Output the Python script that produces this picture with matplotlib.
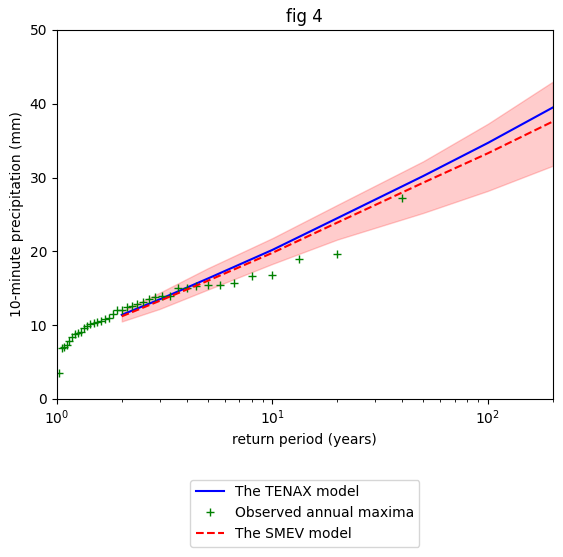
import matplotlib
matplotlib.use("Agg")
import matplotlib.pyplot as plt

# --- observed annual maxima (return period in years, value in mm) ---
obs_T = [1.026, 1.053, 1.081, 1.111, 1.143, 1.176, 1.212, 1.25, 1.29, 1.333,
         1.379, 1.429, 1.481, 1.538, 1.6, 1.667, 1.739, 1.818, 1.905, 2.0,
         2.105, 2.222, 2.353, 2.5, 2.667, 2.857, 3.077, 3.333, 3.636, 4.0,
         4.444, 5.0, 5.714, 6.667, 8.0, 10.0, 13.33, 20.0, 40.0]
obs_P = [3.5, 6.9, 7.0, 7.3, 7.9, 8.4, 8.8, 8.9, 9.1, 9.6,
         9.9, 10.1, 10.3, 10.4, 10.5, 10.8, 11.0, 11.5, 12.0, 12.1,
         12.4, 12.6, 12.9, 13.2, 13.5, 13.8, 14.0, 14.0, 15.0, 15.0,
         15.3, 15.4, 15.5, 15.7, 16.6, 16.8, 19.0, 19.6, 27.2]

# --- model curves ---
model_T = [2, 3, 5, 10, 20, 50, 100, 200]
tenax = [11.4, 13.5, 16.3, 20.2, 24.5, 30.2, 34.7, 39.5]
smev = [11.2, 13.3, 16.0, 19.8, 23.9, 29.3, 33.3, 37.6]
tenax_up = [11.9, 14.4, 17.7, 21.8, 26.3, 32.2, 37.3, 43.0]
tenax_lo = [10.5, 12.2, 14.8, 18.3, 21.6, 25.2, 28.2, 31.6]

fig = plt.figure(figsize=(5.63, 5.57), dpi=100)
ax = fig.add_axes([0.101, 0.2837, 0.881, 0.6625])

ax.fill_between(model_T, tenax_lo, tenax_up, color='red', alpha=0.2, linewidth=1)
ax.plot(model_T, tenax, color='blue', label="The TENAX model")
ax.plot(obs_T, obs_P, 'g+', label="Observed annual maxima")
ax.plot(model_T, smev, 'r--', label="The SMEV model")

ax.set_xscale('log')
ax.set_xlim(1, 200)
ax.set_ylim(0, 50)
ax.set_xlabel("return period (years)")
ax.set_ylabel("10-minute precipitation (mm)")
ax.set_title("fig 4")
ax.legend(loc='upper center', bbox_to_anchor=(0.5, -0.2))

fig.savefig("out.png", dpi=100)
